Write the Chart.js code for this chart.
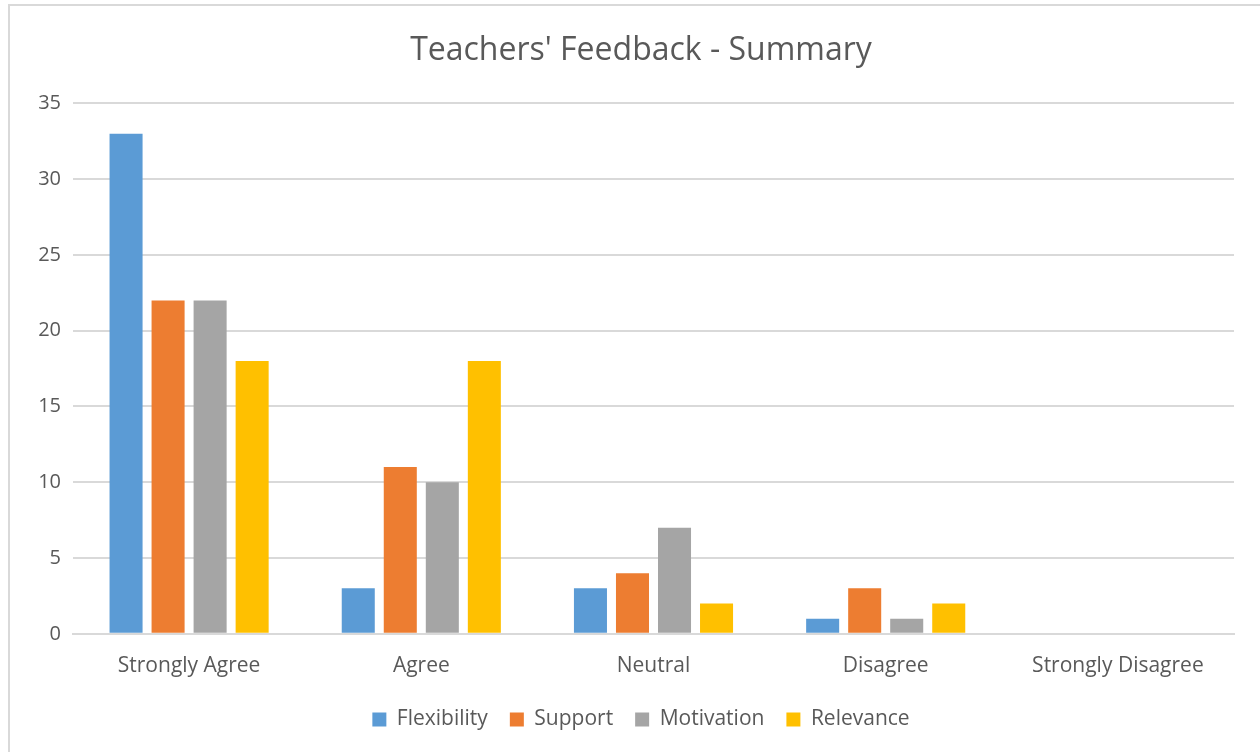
<!DOCTYPE html>
<html>
<head>
<meta charset="utf-8">
<script src="https://cdn.jsdelivr.net/npm/chart.js@4.4.1/dist/chart.umd.min.js"></script>
<style>
  html, body { margin: 0; padding: 0; background: #fff; overflow: hidden; }
  #box { position: absolute; left: 8px; top: 4px; width: 1262px; height: 760px;
         border-left: 2px solid #d9d9d9; border-top: 2px solid #d9d9d9; }
  #wrap { position: absolute; left: 0; top: 0; width: 1250px; height: 746px; }
</style>
</head>
<body>
<div id="box"><div id="wrap"><canvas id="c"></canvas></div></div>
<script>
// categories et valeurs
const categories = ['Strongly Agree', 'Agree', 'Neutral', 'Disagree', 'Strongly Disagree'];
const flexibility = [33, 3, 3, 1, 0];
const support = [22, 11, 4, 3, 0];
const motivation = [22, 10, 7, 1, 0];
const relevance = [18, 18, 2, 2, 0];
const yTicks = [0, 5, 10, 15, 20, 25, 30, 35];

const police = "'Open Sans', 'Liberation Sans', sans-serif";
const gris = '#595959';

new Chart('c', {
  type: 'bar',
  data: {
    labels: categories,
    datasets: [
      { label: 'Flexibility', data: flexibility, backgroundColor: '#5B9BD5' },
      { label: 'Support', data: support, backgroundColor: '#ED7D31' },
      { label: 'Motivation', data: motivation, backgroundColor: '#A5A5A5' },
      { label: 'Relevance', data: relevance, backgroundColor: '#FFC000' }
    ]
  },
  options: {
    responsive: true,
    maintainAspectRatio: false,
    animation: false,
    layout: { padding: { left: 12, right: 0, top: 26, bottom: 12 } },
    datasets: { bar: { categoryPercentage: 0.724, barPercentage: 0.786 } },
    plugins: {
      title: {
        display: true,
        text: "Teachers' Feedback - Summary",
        color: gris,
        font: { family: police, size: 32, weight: 'normal' },
        padding: { top: 0, bottom: 33 }
      },
      legend: {
        position: 'bottom',
        labels: {
          color: gris,
          font: { family: police, size: 21 },
          boxWidth: 14, boxHeight: 14,
          padding: 22
        }
      },
      tooltip: { enabled: false }
    },
    scales: {
      x: {
        grid: { display: false, drawTicks: false },
        border: { color: '#d9d9d9', width: 2 },
        ticks: { color: gris, font: { family: police, size: 21 }, padding: 20 },
        afterFit: (s) => { s.height = s.height - 12; }
      },
      y: {
        min: 0, max: 35,
        afterBuildTicks: (s) => { s.ticks = yTicks.map(v => ({ value: v })); },
        afterFit: (s) => { s.width = 51; },
        grid: { color: '#d9d9d9', lineWidth: 2, drawTicks: false },
        border: { display: false },
        ticks: { color: gris, font: { family: police, size: 20 }, padding: 12 }
      },
      // marge de droite vide pour que la légende reste centrée sur le cadre
      marge: {
        type: 'linear', position: 'right', display: true,
        grid: { display: false, drawTicks: false },
        border: { display: false },
        ticks: { display: false },
        afterFit: (s) => { s.width = 26; }
      }
    }
  }
});
</script>
</body>
</html>
